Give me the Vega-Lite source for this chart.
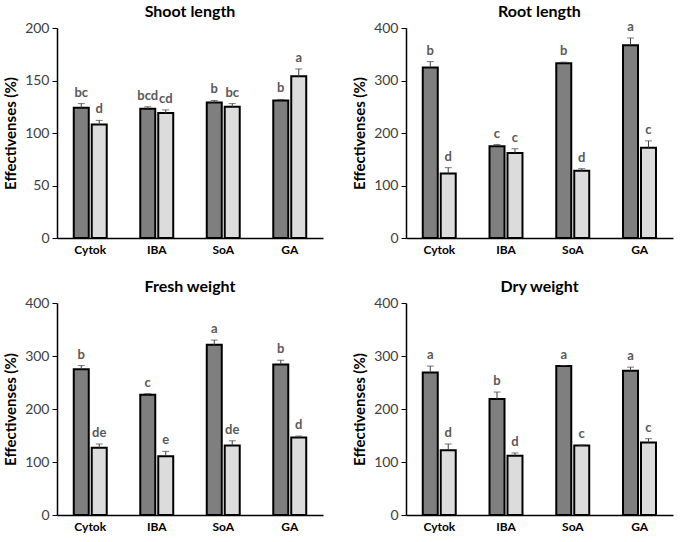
{
  "$schema": "https://vega.github.io/schema/vega-lite/v6.json",
  "padding": {"left": 3, "top": 3, "right": 3, "bottom": 2},
  "background": "white",
  "data": {"values": [
    {"panel": "Shoot length", "treatment": "Cytok", "series": "s1", "value": 124, "hi": 128, "letter": "bc"},
    {"panel": "Shoot length", "treatment": "Cytok", "series": "s2", "value": 108, "hi": 112, "letter": "d"},
    {"panel": "Shoot length", "treatment": "IBA", "series": "s1", "value": 123, "hi": 125, "letter": "bcd"},
    {"panel": "Shoot length", "treatment": "IBA", "series": "s2", "value": 119, "hi": 122, "letter": "cd"},
    {"panel": "Shoot length", "treatment": "SoA", "series": "s1", "value": 129, "hi": 131, "letter": "b"},
    {"panel": "Shoot length", "treatment": "SoA", "series": "s2", "value": 125, "hi": 128, "letter": "bc"},
    {"panel": "Shoot length", "treatment": "GA", "series": "s1", "value": 131, "hi": 132, "letter": "b"},
    {"panel": "Shoot length", "treatment": "GA", "series": "s2", "value": 154, "hi": 161, "letter": "a"},
    {"panel": "Root length", "treatment": "Cytok", "series": "s1", "value": 325, "hi": 336, "letter": "b"},
    {"panel": "Root length", "treatment": "Cytok", "series": "s2", "value": 123, "hi": 134, "letter": "d"},
    {"panel": "Root length", "treatment": "IBA", "series": "s1", "value": 175, "hi": 178, "letter": "c"},
    {"panel": "Root length", "treatment": "IBA", "series": "s2", "value": 162, "hi": 170, "letter": "c"},
    {"panel": "Root length", "treatment": "SoA", "series": "s1", "value": 333, "hi": 335, "letter": "b"},
    {"panel": "Root length", "treatment": "SoA", "series": "s2", "value": 128, "hi": 132, "letter": "d"},
    {"panel": "Root length", "treatment": "GA", "series": "s1", "value": 367, "hi": 381, "letter": "a"},
    {"panel": "Root length", "treatment": "GA", "series": "s2", "value": 172, "hi": 185, "letter": "c"},
    {"panel": "Fresh weight", "treatment": "Cytok", "series": "s1", "value": 275, "hi": 282, "letter": "b"},
    {"panel": "Fresh weight", "treatment": "Cytok", "series": "s2", "value": 127, "hi": 134, "letter": "de"},
    {"panel": "Fresh weight", "treatment": "IBA", "series": "s1", "value": 227, "hi": 229, "letter": "c"},
    {"panel": "Fresh weight", "treatment": "IBA", "series": "s2", "value": 111, "hi": 120, "letter": "e"},
    {"panel": "Fresh weight", "treatment": "SoA", "series": "s1", "value": 321, "hi": 330, "letter": "a"},
    {"panel": "Fresh weight", "treatment": "SoA", "series": "s2", "value": 131, "hi": 140, "letter": "de"},
    {"panel": "Fresh weight", "treatment": "GA", "series": "s1", "value": 284, "hi": 292, "letter": "b"},
    {"panel": "Fresh weight", "treatment": "GA", "series": "s2", "value": 146, "hi": 149, "letter": "d"},
    {"panel": "Dry weight", "treatment": "Cytok", "series": "s1", "value": 269, "hi": 281, "letter": "a"},
    {"panel": "Dry weight", "treatment": "Cytok", "series": "s2", "value": 122, "hi": 134, "letter": "d"},
    {"panel": "Dry weight", "treatment": "IBA", "series": "s1", "value": 219, "hi": 232, "letter": "b"},
    {"panel": "Dry weight", "treatment": "IBA", "series": "s2", "value": 112, "hi": 117, "letter": "d"},
    {"panel": "Dry weight", "treatment": "SoA", "series": "s1", "value": 281, "hi": 282, "letter": "a"},
    {"panel": "Dry weight", "treatment": "SoA", "series": "s2", "value": 131, "hi": 132, "letter": "c"},
    {"panel": "Dry weight", "treatment": "GA", "series": "s1", "value": 272, "hi": 279, "letter": "a"},
    {"panel": "Dry weight", "treatment": "GA", "series": "s2", "value": 137, "hi": 144, "letter": "c"}
  ]},
  "columns": 2,
  "spacing": {"row": 24, "column": 29},
  "concat": [
    {
      "width": 266, "height": 210,
      "title": "Shoot length",
      "transform": [{"filter": "datum.panel === 'Shoot length'"}],
      "encoding": {
        "x": {"field": "treatment", "type": "nominal", "sort": ["Cytok", "IBA", "SoA", "GA"], "scale": {"paddingInner": 0, "paddingOuter": 0}, "title": null},
        "xOffset": {"field": "series", "type": "nominal", "scale": {"paddingInner": 0, "paddingOuter": 0.85}}
      },
      "layer": [
        {"mark": {"type": "bar", "width": 15, "stroke": "black", "strokeWidth": 2},
         "encoding": {"y": {"field": "value", "type": "quantitative", "title": "Effectivenses (%)", "scale": {"domain": [0, 200]}, "axis": {"values": [0, 50, 100, 150, 200]}},
                      "fill": {"field": "series", "type": "nominal", "scale": {"domain": ["s1", "s2"], "range": ["#7f7f7f", "#dcdcdc"]}, "legend": null}}},
        {"mark": {"type": "rule", "color": "#404040", "strokeWidth": 1},
         "encoding": {"y": {"field": "value", "type": "quantitative", "title": "Effectivenses (%)"}, "y2": {"field": "hi"}}},
        {"mark": {"type": "tick", "color": "#404040", "size": 7, "thickness": 1, "orient": "horizontal"},
         "encoding": {"y": {"field": "hi", "type": "quantitative", "title": "Effectivenses (%)"}}},
        {"mark": {"type": "text", "dy": -4, "baseline": "bottom", "fontWeight": "bold", "fontSize": 13, "color": "#595959"},
         "encoding": {"y": {"field": "hi", "type": "quantitative", "title": "Effectivenses (%)"}, "text": {"field": "letter"}}}
      ]
    },
    {
      "width": 267, "height": 210,
      "title": "Root length",
      "transform": [{"filter": "datum.panel === 'Root length'"}],
      "encoding": {
        "x": {"field": "treatment", "type": "nominal", "sort": ["Cytok", "IBA", "SoA", "GA"], "scale": {"paddingInner": 0, "paddingOuter": 0}, "title": null},
        "xOffset": {"field": "series", "type": "nominal", "scale": {"paddingInner": 0, "paddingOuter": 0.85}}
      },
      "layer": [
        {"mark": {"type": "bar", "width": 15, "stroke": "black", "strokeWidth": 2},
         "encoding": {"y": {"field": "value", "type": "quantitative", "title": "Effectivenses (%)", "scale": {"domain": [0, 400]}, "axis": {"values": [0, 100, 200, 300, 400]}},
                      "fill": {"field": "series", "type": "nominal", "scale": {"domain": ["s1", "s2"], "range": ["#7f7f7f", "#dcdcdc"]}, "legend": null}}},
        {"mark": {"type": "rule", "color": "#404040", "strokeWidth": 1},
         "encoding": {"y": {"field": "value", "type": "quantitative", "title": "Effectivenses (%)"}, "y2": {"field": "hi"}}},
        {"mark": {"type": "tick", "color": "#404040", "size": 7, "thickness": 1, "orient": "horizontal"},
         "encoding": {"y": {"field": "hi", "type": "quantitative", "title": "Effectivenses (%)"}}},
        {"mark": {"type": "text", "dy": -4, "baseline": "bottom", "fontWeight": "bold", "fontSize": 13, "color": "#595959"},
         "encoding": {"y": {"field": "hi", "type": "quantitative", "title": "Effectivenses (%)"}, "text": {"field": "letter"}}}
      ]
    },
    {
      "width": 266, "height": 212,
      "title": "Fresh weight",
      "transform": [{"filter": "datum.panel === 'Fresh weight'"}],
      "encoding": {
        "x": {"field": "treatment", "type": "nominal", "sort": ["Cytok", "IBA", "SoA", "GA"], "scale": {"paddingInner": 0, "paddingOuter": 0}, "title": null},
        "xOffset": {"field": "series", "type": "nominal", "scale": {"paddingInner": 0, "paddingOuter": 0.85}}
      },
      "layer": [
        {"mark": {"type": "bar", "width": 15, "stroke": "black", "strokeWidth": 2},
         "encoding": {"y": {"field": "value", "type": "quantitative", "title": "Effectivenses (%)", "scale": {"domain": [0, 400]}, "axis": {"values": [0, 100, 200, 300, 400]}},
                      "fill": {"field": "series", "type": "nominal", "scale": {"domain": ["s1", "s2"], "range": ["#7f7f7f", "#dcdcdc"]}, "legend": null}}},
        {"mark": {"type": "rule", "color": "#404040", "strokeWidth": 1},
         "encoding": {"y": {"field": "value", "type": "quantitative", "title": "Effectivenses (%)"}, "y2": {"field": "hi"}}},
        {"mark": {"type": "tick", "color": "#404040", "size": 7, "thickness": 1, "orient": "horizontal"},
         "encoding": {"y": {"field": "hi", "type": "quantitative", "title": "Effectivenses (%)"}}},
        {"mark": {"type": "text", "dy": -4, "baseline": "bottom", "fontWeight": "bold", "fontSize": 13, "color": "#595959"},
         "encoding": {"y": {"field": "hi", "type": "quantitative", "title": "Effectivenses (%)"}, "text": {"field": "letter"}}}
      ]
    },
    {
      "width": 267, "height": 212,
      "title": "Dry weight",
      "transform": [{"filter": "datum.panel === 'Dry weight'"}],
      "encoding": {
        "x": {"field": "treatment", "type": "nominal", "sort": ["Cytok", "IBA", "SoA", "GA"], "scale": {"paddingInner": 0, "paddingOuter": 0}, "title": null},
        "xOffset": {"field": "series", "type": "nominal", "scale": {"paddingInner": 0, "paddingOuter": 0.85}}
      },
      "layer": [
        {"mark": {"type": "bar", "width": 15, "stroke": "black", "strokeWidth": 2},
         "encoding": {"y": {"field": "value", "type": "quantitative", "title": "Effectivenses (%)", "scale": {"domain": [0, 400]}, "axis": {"values": [0, 100, 200, 300, 400]}},
                      "fill": {"field": "series", "type": "nominal", "scale": {"domain": ["s1", "s2"], "range": ["#7f7f7f", "#dcdcdc"]}, "legend": null}}},
        {"mark": {"type": "rule", "color": "#404040", "strokeWidth": 1},
         "encoding": {"y": {"field": "value", "type": "quantitative", "title": "Effectivenses (%)"}, "y2": {"field": "hi"}}},
        {"mark": {"type": "tick", "color": "#404040", "size": 7, "thickness": 1, "orient": "horizontal"},
         "encoding": {"y": {"field": "hi", "type": "quantitative", "title": "Effectivenses (%)"}}},
        {"mark": {"type": "text", "dy": -4, "baseline": "bottom", "fontWeight": "bold", "fontSize": 13, "color": "#595959"},
         "encoding": {"y": {"field": "hi", "type": "quantitative", "title": "Effectivenses (%)"}, "text": {"field": "letter"}}}
      ]
    }
  ],
  "config": {
    "font": "Lato",
    "view": {"stroke": null},
    "title": {"fontSize": 16, "fontWeight": "bold", "color": "black", "offset": 1, "anchor": "middle"},
    "axisX": {"domainColor": "black", "domainWidth": 1.5, "ticks": false, "labelAngle": 0, "labelFontWeight": "bold", "labelFontSize": 12, "labelColor": "black", "labelPadding": 6, "grid": false},
    "axisY": {"domainColor": "black", "domainWidth": 1.5, "tickColor": "black", "tickSize": 5, "labelFontSize": 14, "labelColor": "#404040", "labelPadding": 3, "grid": false, "titleFontSize": 15, "titleFontWeight": "bold", "titleColor": "black", "titlePadding": 6}
  }
}
